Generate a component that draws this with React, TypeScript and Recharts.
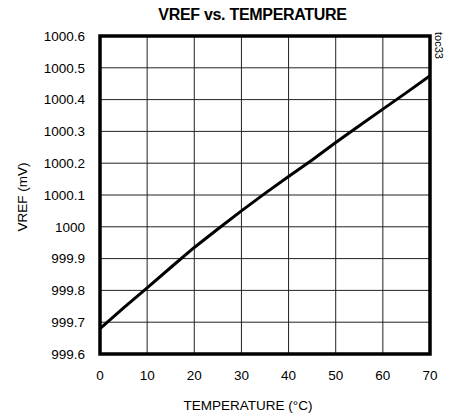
import React from 'react';
import {
  LineChart,
  Line,
  XAxis,
  YAxis,
  CartesianGrid,
  ReferenceArea,
  Label
} from 'recharts';

// temperature (°C) and reference voltage (mV)
const temps = [0, 5, 10, 15, 20, 25, 30, 35, 40, 45, 50, 55, 60, 65, 70];
const vref = [999.68, 999.745, 999.808, 999.872, 999.935, 999.993, 1000.05, 1000.105, 1000.158, 1000.21, 1000.265, 1000.318, 1000.37, 1000.422, 1000.475];

const xTicks = [0, 10, 20, 30, 40, 50, 60, 70];
const yTicks = [999.6, 999.7, 999.8, 999.9, 1000, 1000.1, 1000.2, 1000.3, 1000.4, 1000.5, 1000.6];

const FONT = '"Liberation Sans", Arial, sans-serif';

export default function App() {
  const data = temps.map((t, i) => ({ t, v: vref[i] }));

  return (
    <div style={{ position: 'absolute', left: 0, top: 0, width: 455, height: 416, background: '#fff', fontFamily: FONT }}>
      {/* title */}
      <div style={{ position: 'absolute', left: 0, top: 6, width: 505, textAlign: 'center', fontSize: 16, fontWeight: 'bold', color: '#000', letterSpacing: -0.3 }}>
        VREF vs. TEMPERATURE
      </div>
      {/* figure tag */}
      <div style={{ position: 'absolute', left: 431, top: 40, fontSize: 11, color: '#000', transform: 'rotate(90deg)', transformOrigin: '0 0', width: 40, whiteSpace: 'nowrap', marginLeft: 14, marginTop: -8 }}>
        toc33
      </div>
      <LineChart width={455} height={416} data={data} margin={{ top: 36, right: 25, left: 0, bottom: 0 }}>
        <CartesianGrid stroke="#222" strokeWidth={1} horizontal vertical />
        <XAxis
          dataKey="t"
          type="number"
          domain={[0, 70]}
          ticks={xTicks}
          height={62}
          axisLine={false}
          tickLine={false}
          tickSize={0}
          tickMargin={16}
          tick={{ fill: '#000', fontSize: 13.5, fontFamily: FONT }}
        >
          <Label value="TEMPERATURE  (°C)" position="insideBottom" offset={6} dx={-17} style={{ fill: '#000', fontSize: 13.5, fontFamily: FONT }} />
        </XAxis>
        <YAxis
          type="number"
          domain={[999.6, 1000.6]}
          ticks={yTicks}
          width={100}
          axisLine={false}
          tickLine={false}
          tickSize={0}
          tickMargin={15}
          tickFormatter={(v: number) => String(Number(v.toFixed(1)))}
          tick={{ fill: '#000', fontSize: 13.5, fontFamily: FONT }}
        >
          <Label value="VREF (mV)" angle={-90} position="insideLeft" offset={22} dy={2} style={{ fill: '#000', fontSize: 13.5, fontFamily: FONT, textAnchor: 'middle' }} />
        </YAxis>
        <ReferenceArea x1={0} x2={70} y1={999.6} y2={1000.6} fill="none" stroke="#000" strokeWidth={3.5} ifOverflow="visible" />
        <Line dataKey="v" stroke="#000" strokeWidth={3} dot={false} type="linear" isAnimationActive={false} />
      </LineChart>
    </div>
  );
}
